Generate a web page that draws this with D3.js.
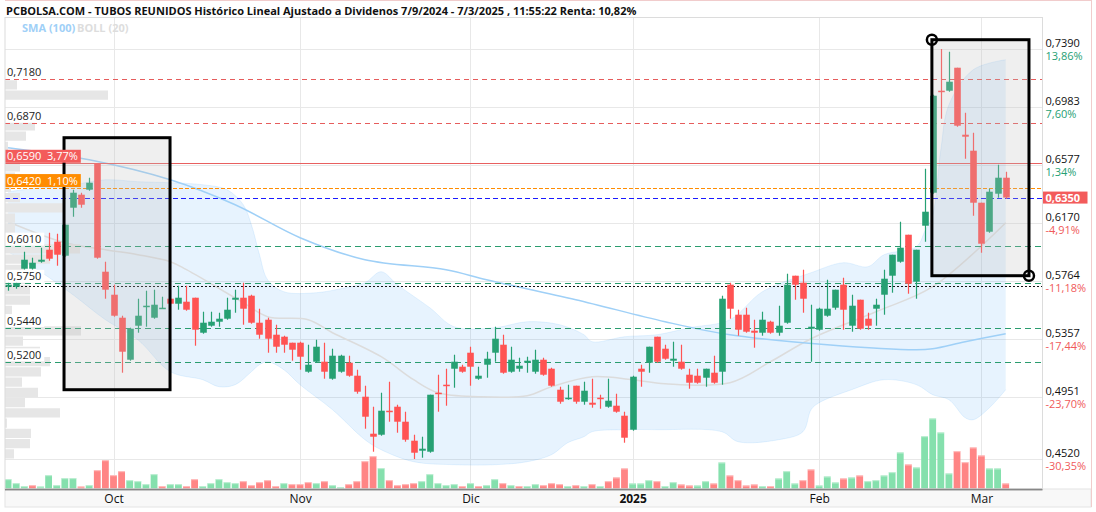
<!DOCTYPE html>
<html>
<head>
<meta charset="utf-8">
<script src="https://cdn.jsdelivr.net/npm/d3@7"></script>
<style>
  body { margin: 0; background: #fff; }
  svg { display: block; font-family: "Open Sans", "Noto Sans", sans-serif; }
</style>
</head>
<body>
<div id="container"></div>
<script>
// ---- data ----
var opens = [0.5726,0.5726,0.5852,0.5852,0.5901,0.5985,0.6041,0.5943,0.6279,0.6370,0.6405,0.6590,0.5831,0.5670,0.5509,0.5215,0.5453,0.5586,0.5509,0.5572,
  0.5642,0.5607,0.5621,0.5649,0.5404,0.5453,0.5481,0.5502,0.5635,0.5649,0.5663,0.5474,0.5495,0.5390,0.5376,0.5334,0.5334,0.5131,0.5201,0.5201,
  0.5082,0.5131,0.5194,0.5103,0.4956,0.4697,0.4690,0.4858,0.4886,0.4781,0.4648,0.4578,0.4571,0.4984,0.5040,0.5152,0.5166,0.5264,0.5082,0.5180,
  0.5264,0.5320,0.5131,0.5152,0.5194,0.5131,0.5215,0.5152,0.5005,0.4942,0.5033,0.4921,0.4914,0.4949,0.4886,0.4893,0.4823,0.4725,0.5152,0.5194,
  0.5376,0.5292,0.5208,0.5201,0.5110,0.5103,0.5089,0.5124,0.5131,0.5740,0.5530,0.5530,0.5418,0.5404,0.5481,0.5404,0.5474,0.5803,0.5754,0.5432,
  0.5425,0.5523,0.5579,0.5740,0.5453,0.5635,0.5502,0.5572,0.5670,0.5803,0.5901,0.6090,0.5761,0.6153,0.6384,0.7098,0.7098,0.7259,0.6790,0.6678,
  0.6314,0.6111,0.6377,0.6489];
var highs = [0.5775,0.5768,0.5971,0.5929,0.5999,0.6104,0.6097,0.6160,0.6405,0.6384,0.6489,0.6590,0.5901,0.5740,0.5523,0.5439,0.5642,0.5698,0.5705,0.5656,
  0.5649,0.5733,0.5733,0.5649,0.5551,0.5551,0.5544,0.5649,0.5705,0.5754,0.5670,0.5572,0.5509,0.5460,0.5383,0.5334,0.5341,0.5320,0.5355,0.5334,
  0.5292,0.5250,0.5243,0.5145,0.5033,0.4886,0.4984,0.5061,0.4900,0.4851,0.4690,0.4676,0.4970,0.5110,0.5152,0.5250,0.5180,0.5306,0.5166,0.5271,
  0.5446,0.5390,0.5306,0.5229,0.5236,0.5285,0.5229,0.5159,0.5026,0.5040,0.5033,0.5061,0.5082,0.4970,0.5082,0.4977,0.4851,0.5103,0.5180,0.5306,
  0.5376,0.5320,0.5341,0.5320,0.5152,0.5152,0.5152,0.5243,0.5663,0.5754,0.5565,0.5579,0.5495,0.5551,0.5488,0.5593,0.5817,0.5803,0.5845,0.5600,
  0.5579,0.5775,0.5705,0.5789,0.5670,0.5635,0.5544,0.5642,0.5845,0.5950,0.6181,0.6090,0.5985,0.6552,0.7070,0.7390,0.7371,0.7259,0.6944,0.6804,
  0.6314,0.6412,0.6580,0.6531];
var lows = [0.5698,0.5712,0.5845,0.5845,0.5894,0.5908,0.5873,0.5936,0.6216,0.6279,0.6398,0.5922,0.5642,0.5516,0.5124,0.5208,0.5404,0.5446,0.5502,0.5570,
  0.5600,0.5565,0.5558,0.5313,0.5397,0.5446,0.5446,0.5495,0.5544,0.5460,0.5467,0.5362,0.5264,0.5264,0.5264,0.5208,0.5145,0.5124,0.5194,0.5082,
  0.5075,0.5124,0.5096,0.4977,0.4732,0.4571,0.4683,0.4781,0.4704,0.4641,0.4520,0.4529,0.4564,0.4851,0.4893,0.5019,0.5124,0.5033,0.5075,0.5089,
  0.5201,0.5117,0.5124,0.5131,0.5124,0.5117,0.5103,0.5026,0.4907,0.4935,0.4907,0.4900,0.4879,0.4872,0.4879,0.4844,0.4634,0.4718,0.5026,0.5124,
  0.5194,0.5215,0.5166,0.5145,0.5012,0.5047,0.5026,0.5047,0.5040,0.5502,0.5383,0.5404,0.5299,0.5383,0.5397,0.5383,0.5467,0.5635,0.5544,0.5201,
  0.5418,0.5516,0.5565,0.5425,0.5411,0.5425,0.5425,0.5453,0.5530,0.5684,0.5894,0.5677,0.5642,0.6041,0.6377,0.6902,0.7091,0.6846,0.6622,0.6223,
  0.5964,0.6104,0.6349,0.6342];
var closes = [0.5740,0.5754,0.5915,0.5894,0.5915,0.5922,0.5950,0.6160,0.6384,0.6300,0.6454,0.5929,0.5705,0.5523,0.5271,0.5432,0.5523,0.5593,0.5600,0.5579,
  0.5607,0.5649,0.5565,0.5425,0.5474,0.5481,0.5502,0.5565,0.5649,0.5572,0.5474,0.5390,0.5362,0.5306,0.5320,0.5285,0.5236,0.5180,0.5306,0.5131,
  0.5243,0.5243,0.5103,0.4991,0.4816,0.4676,0.4858,0.4851,0.4781,0.4655,0.4564,0.4592,0.4970,0.4977,0.5033,0.5201,0.5131,0.5166,0.5103,0.5222,
  0.5362,0.5124,0.5215,0.5173,0.5208,0.5215,0.5110,0.5033,0.4921,0.4949,0.4921,0.4998,0.4900,0.4942,0.4928,0.4851,0.4669,0.5096,0.5131,0.5306,
  0.5201,0.5222,0.5222,0.5152,0.5054,0.5054,0.5152,0.5054,0.5642,0.5572,0.5425,0.5411,0.5404,0.5495,0.5404,0.5453,0.5740,0.5740,0.5642,0.5446,
  0.5572,0.5572,0.5705,0.5565,0.5593,0.5432,0.5453,0.5600,0.5782,0.5950,0.5999,0.5747,0.5985,0.6251,0.7063,0.7091,0.7161,0.6853,0.6776,0.6314,
  0.6027,0.6391,0.6489,0.6350];
var volumes = [100,60,30,40,26,140,40,110,110,26,40,190,290,140,180,90,80,50,150,30,
  50,50,30,100,30,60,100,70,60,80,40,70,90,30,60,50,50,70,60,80,
  40,20,50,80,280,330,210,90,40,50,60,80,150,60,40,50,30,60,30,40,
  100,60,40,30,30,50,40,60,50,30,40,30,50,30,80,117,207,57,57,90,
  80,30,70,47,37,37,80,57,267,137,90,37,47,30,30,107,180,57,90,197,
  37,127,67,107,117,137,80,90,137,170,367,247,217,530,707,567,157,380,270,417,
  337,207,207,57];

// bollinger (20) and sma (100) read at sample bars: [bar, price]
var bollUpper = [[0,0.6391],[4,0.6419],[8,0.6440],[12,0.6475],[16,0.6461],[20,0.6454],[24,0.6440],[27,0.6405],[29,0.6300],[30,0.6160],
  [31,0.5950],[32,0.5775],[34,0.5691],[38,0.5684],[41,0.5712],[44,0.5754],[46,0.5831],[48,0.5740],[52,0.5579],[55,0.5446],
  [60,0.5439],[64,0.5481],[68,0.5460],[71,0.5390],[72,0.5341],[76,0.5376],[80,0.5390],[84,0.5439],[89,0.5495],[93,0.5691],
  [99,0.5824],[103,0.5894],[106,0.5866],[108,0.5950],[112,0.6006],[113,0.6111],[114,0.6230],[115,0.6685],[116,0.7000],[119,0.7245],[123,0.7315]];
var bollMiddle = [[0,0.6181],[7,0.6034],[12,0.5985],[16,0.5950],[20,0.5901],[22,0.5845],[29,0.5614],[32,0.5516],[37,0.5495],[40,0.5404],
  [46,0.5236],[50,0.5075],[53,0.4984],[58,0.4956],[64,0.4963],[67,0.5026],[72,0.5096],[77,0.5075],[81,0.5047],[89,0.5054],
  [94,0.5201],[99,0.5362],[107,0.5551],[114,0.5726],[123,0.6174]];
var bollLower = [[0,0.5971],[4,0.5831],[8,0.5670],[12,0.5495],[16,0.5355],[20,0.5131],[24,0.5075],[26,0.5026],[28,0.5040],[30,0.5131],
  [31,0.5180],[32,0.5201],[34,0.5145],[36,0.5040],[40,0.4865],[44,0.4655],[46,0.4585],[50,0.4501],[55,0.4480],[60,0.4480],
  [64,0.4501],[67,0.4550],[69,0.4634],[71,0.4676],[72,0.4711],[76,0.4725],[80,0.4725],[88,0.4711],[90,0.4641],[95,0.4655],
  [98,0.4711],[99,0.4865],[100,0.4914],[104,0.5005],[108,0.5075],[112,0.5040],[114,0.4970],[116,0.4935],[118,0.4809],[119,0.4795],
  [121,0.4879],[123,0.5005]];
var sma100 = [[0,0.6699],[10,0.6615],[20,0.6475],[28,0.6300],[36,0.6069],[44,0.5915],[54,0.5845],[59,0.5775],[70,0.5635],[81,0.5481],
  [89,0.5390],[101,0.5320],[112,0.5285],[114,0.5292],[118,0.5341],[123,0.5397]];

// volume by price, 40 bins from the high down to the low
var profileHigh = 0.7390, profileLow = 0.4520;
var profile = [0,0,0,120,1030,0,200,300,210,30,100,150,100,60,150,600,100,100,150,750,
  450,200,250,250,250,70,150,760,180,350,450,360,170,330,200,550,20,260,250,90];

// level lines
var redLevels = [0.7180, 0.6870];
var greenLevels = [0.6010, 0.5750, 0.5440, 0.5200];
var resistLevel = 0.6590;
var orangeLevel = 0.6420;
var lastPrice = 0.6350;
var dottedLevel = 0.5733;

// boxes drawn on the chart: [fromBar, toBar, topPrice, bottomPrice]
var boxes = [[6.9, 19.97, 0.6769, 0.5005], [113.9, 125.87, 0.7455, 0.5803]];

// right axis
var rightTicks = [0.7390, 0.6983, 0.6577, 0.6170, 0.5764, 0.5357, 0.4951, 0.4520];
var rightPct = ["13,86%", "7,60%", "1,34%", "-4,91%", "-11,18%", "-17,44%", "-23,70%", "-30,35%"];

var monthLabels = ["Oct", "Nov", "Dic", "2025", "Feb", "Mar"];
var holidays = ["2024-12-25", "2024-12-26"];

var title = "PCBOLSA.COM - TUBOS REUNIDOS Histórico Lineal Ajustado a Dividenos 7/9/2024 - 7/3/2025 , 11:55:22 Renta: 10,82%";

// ---- trading days ----
var fmtDay = d3.timeFormat("%Y-%m-%d");
var days = d3.timeDay.range(new Date(2024, 8, 12), new Date(2025, 2, 8)).filter(function(d) {
  return d.getDay() % 6 != 0 && holidays.indexOf(fmtDay(d)) < 0;
});
var monthIdx = [];
days.forEach(function(d, i) {
  if (i > 0 && d.getMonth() != days[i - 1].getMonth()) monthIdx.push(i);
});

// ---- layout ----
var width = 1096, height = 512;
var pL = 5, pR = 1042.5, pT = 17.5, pB = 489;
var green = "#26a073", red = "#ff5353";
var comma = function(v) { return d3.format(".4f")(v).replace(".", ","); };

var svg = d3.select("#container").append("svg").attr("width", width).attr("height", height);

var x = d3.scaleLinear().domain([0, closes.length - 1]).range([8.06, 1005.7]);
var y = d3.scaleLinear().domain([profileLow, profileHigh]).range([459, 49]);
var yv = d3.scaleLinear().domain([0, 800]).range([pB, pB - 80]);
var xp = d3.scaleLinear().domain([0, 1000]).range([0, 100]);

svg.append("defs").append("clipPath").attr("id", "clip")
  .append("rect").attr("x", pL).attr("y", pT).attr("width", pR - pL).attr("height", pB - pT);

svg.append("rect").attr("x", 0).attr("y", 0).attr("width", width).attr("height", height).attr("fill", "#fff");

var plot = svg.append("g").attr("clip-path", "url(#clip)");

// grid
plot.append("g").selectAll("line").data(rightTicks).enter().append("line")
  .attr("x1", pL).attr("x2", pR)
  .attr("y1", function(d) { return Math.round(y(d)) + 0.5; })
  .attr("y2", function(d) { return Math.round(y(d)) + 0.5; })
  .attr("stroke", "#e8e8e8");
plot.append("g").selectAll("line").data(monthIdx).enter().append("line")
  .attr("x1", function(d) { return Math.round(x(d)) + 0.5; })
  .attr("x2", function(d) { return Math.round(x(d)) + 0.5; })
  .attr("y1", pT).attr("y2", pB)
  .attr("stroke", "#e8e8e8");

// bollinger band
var line = d3.line()
  .x(function(d) { return x(d[0]); })
  .y(function(d) { return y(d[1]); })
  .curve(d3.curveCatmullRom);
var bandPath = line(bollUpper) + "L" + line(bollLower.slice().reverse()).slice(1) + "Z";
plot.append("path").attr("d", bandPath).attr("fill", "rgba(33,150,243,0.11)");
plot.append("path").attr("d", line(bollUpper)).attr("fill", "none").attr("stroke", "rgba(33,150,243,0.1)");
plot.append("path").attr("d", line(bollLower)).attr("fill", "none").attr("stroke", "rgba(33,150,243,0.1)");
plot.append("path").attr("d", line(bollMiddle)).attr("fill", "none").attr("stroke", "#dcdcdc").attr("stroke-width", 1.5);
plot.append("path").attr("d", line(sma100)).attr("fill", "none").attr("stroke", "#9fd0f7").attr("stroke-width", 1.5);

// volume profile
var binH = (y(profileLow) - y(profileHigh)) / profile.length;
plot.append("g").selectAll("rect").data(profile).enter().append("rect")
  .attr("x", pL)
  .attr("y", function(d, i) { return y(profileHigh) + i * binH + 0.5; })
  .attr("width", function(d) { return xp(d); })
  .attr("height", binH - 1)
  .attr("fill", "#e6e6e6");

// volume
function volColor(i) {
  return i == 0 || closes[i] >= closes[i - 1] ? "#85e0ad" : "#ff8585";
}
var vol = plot.append("g").selectAll("g").data(volumes).enter().append("g");
vol.append("rect")
  .attr("x", function(d, i) { return x(i) - 3.4; })
  .attr("width", 6.8)
  .attr("y", function(d) { return yv(d); })
  .attr("height", function(d) { return pB - yv(d); })
  .attr("fill", function(d, i) { return volColor(i); });
vol.append("rect")
  .attr("x", function(d, i) { return x(i) - 3.4; })
  .attr("width", 6.8)
  .attr("y", function(d) { return yv(d); })
  .attr("height", 1.2)
  .attr("fill", "#fff").attr("opacity", 0.45);

// level lines
function hline(v, color, dash, w) {
  plot.append("line")
    .attr("x1", pL).attr("x2", pR)
    .attr("y1", Math.round(y(v)) + 0.5).attr("y2", Math.round(y(v)) + 0.5)
    .attr("stroke", color).attr("stroke-width", w || 1)
    .attr("stroke-dasharray", dash);
}
redLevels.forEach(function(v) { hline(v, "#e65c5c", "5,4"); });
greenLevels.forEach(function(v) { hline(v, "#2a9d6f", "6,4"); });
hline(resistLevel, "#e86060", null);
hline(orangeLevel, "#ff8c00", "4,2");
hline(lastPrice, "#1a1aff", "5,3");
hline(dottedLevel, "#111", "2,2");

// candles
var idx = d3.range(closes.length);
var candle = plot.append("g").selectAll("g").data(idx).enter().append("g");
function cColor(i) { return closes[i] >= opens[i] ? green : red; }
candle.append("line")
  .attr("x1", function(i) { return Math.round(x(i)) + 0.5; })
  .attr("x2", function(i) { return Math.round(x(i)) + 0.5; })
  .attr("y1", function(i) { return y(highs[i]); })
  .attr("y2", function(i) { return y(lows[i]); })
  .attr("stroke", cColor).attr("stroke-width", 1.2);
candle.append("rect")
  .attr("x", function(i) { return Math.round(x(i)) + 0.5 - 3.3; })
  .attr("width", 6.6)
  .attr("y", function(i) { return y(Math.max(opens[i], closes[i])); })
  .attr("height", function(i) { return Math.max(1.5, Math.abs(y(opens[i]) - y(closes[i]))); })
  .attr("fill", cColor);

// boxes
boxes.forEach(function(b) {
  svg.append("rect")
    .attr("x", x(b[0])).attr("y", y(b[2]))
    .attr("width", x(b[1]) - x(b[0])).attr("height", y(b[3]) - y(b[2]))
    .attr("fill", "rgba(190,190,190,0.25)")
    .attr("stroke", "#000").attr("stroke-width", 3);
});
var b2 = boxes[1];
[[b2[0], b2[2]], [b2[1], b2[3]]].forEach(function(p) {
  svg.append("circle").attr("cx", x(p[0])).attr("cy", y(p[1])).attr("r", 5)
    .attr("fill", "none").attr("stroke", "#000").attr("stroke-width", 2.5);
});

// left labels
function leftLabel(v, txt, bg, fg) {
  var g = svg.append("g");
  var t = g.append("text").attr("x", pL + 2).attr("y", y(v) - 3)
    .attr("font-size", 11).attr("fill", fg).attr("xml:space", "preserve").text(txt);
  var bb = t.node().getBBox();
  g.insert("rect", "text").attr("x", pL).attr("y", y(v) - 13.5)
    .attr("width", bb.width + 5).attr("height", 13).attr("fill", bg);
}
redLevels.concat(greenLevels).forEach(function(v) { leftLabel(v, comma(v), "#fff", "#222"); });
function pctOf(v) { return (Math.floor((v / lastPrice - 1) * 10000) / 100).toFixed(2).replace(".", ",") + "%"; }
leftLabel(resistLevel, comma(resistLevel) + "  " + pctOf(resistLevel), "#f35b5b", "#fff");
leftLabel(orangeLevel, comma(orangeLevel) + "  " + pctOf(orangeLevel), "#ff8c00", "#fff");

// x axis strip
svg.append("rect").attr("x", pL).attr("y", pB).attr("width", 1091 - pL).attr("height", 18)
  .attr("fill", "#f8f8f8").attr("stroke", "#e4e4e4");
svg.append("line").attr("x1", pL).attr("x2", pR).attr("y1", pB + 0.5).attr("y2", pB + 0.5)
  .attr("stroke", "#333").attr("stroke-width", 1.5);

var xAxis = svg.append("g").attr("transform", "translate(0," + (pB + 1) + ")")
  .call(d3.axisBottom(x).tickValues(monthIdx).tickSize(0).tickPadding(4)
    .tickFormat(function(d, i) { return monthLabels[i]; }));
xAxis.select(".domain").remove();
xAxis.selectAll("text").attr("font-size", 12).attr("fill", "#111")
  .attr("font-family", "Open Sans, sans-serif")
  .attr("font-weight", function(d, i) { return monthLabels[i] == "2025" ? "bold" : "normal"; });

// right axis
svg.append("line").attr("x1", pR).attr("x2", pR).attr("y1", pT).attr("y2", pB)
  .attr("stroke", "#444");
var yAxis = svg.append("g").attr("transform", "translate(" + pR + ",0)")
  .call(d3.axisRight(y).tickValues(rightTicks).tickSize(0).tickPadding(3).tickFormat(comma));
yAxis.select(".domain").remove();
yAxis.selectAll("text").attr("font-size", 11).attr("fill", "#111")
  .attr("font-family", "Open Sans, sans-serif").attr("dy", "-0.25em");
yAxis.selectAll(".tick").append("text")
  .attr("x", 3).attr("dy", "0.95em").attr("font-size", 11)
  .attr("font-family", "Open Sans, sans-serif")
  .attr("fill", function(d, i) { return rightPct[i].charAt(0) == "-" ? "#f05a5a" : green; })
  .text(function(d, i) { return rightPct[i]; });

svg.append("rect").attr("x", pR).attr("y", y(lastPrice) - 6).attr("width", 45).attr("height", 12)
  .attr("fill", "#f35b5b");
svg.append("text").attr("x", pR + 3).attr("y", y(lastPrice) + 4.5)
  .attr("font-size", 11).attr("fill", "#fff").attr("font-weight", "bold").text(comma(lastPrice));

// frame
svg.append("rect").attr("x", pL).attr("y", pT).attr("width", pR - pL).attr("height", pB - pT)
  .attr("fill", "none").attr("stroke", "#dcdcdc");
svg.append("line").attr("x1", 1091.5).attr("x2", 1091.5).attr("y1", 0).attr("y2", 507).attr("stroke", "#f1cccc");
svg.append("line").attr("x1", pL).attr("x2", 1091.5).attr("y1", 0.5).attr("y2", 0.5).attr("stroke", "#f1cccc");

// title and legend
svg.append("text").attr("x", pL + 1).attr("y", 14.5).attr("font-size", 11).attr("font-weight", "bold")
  .attr("fill", "#111").text(title);
svg.append("text").attr("x", 22).attr("y", 32).attr("font-size", 11).attr("font-weight", "bold")
  .attr("fill", "#9fd0f7").text("SMA (100)");
svg.append("text").attr("x", 77).attr("y", 32).attr("font-size", 11).attr("font-weight", "bold")
  .attr("fill", "#dddddd").text("BOLL (20)");
</script>
</body>
</html>
